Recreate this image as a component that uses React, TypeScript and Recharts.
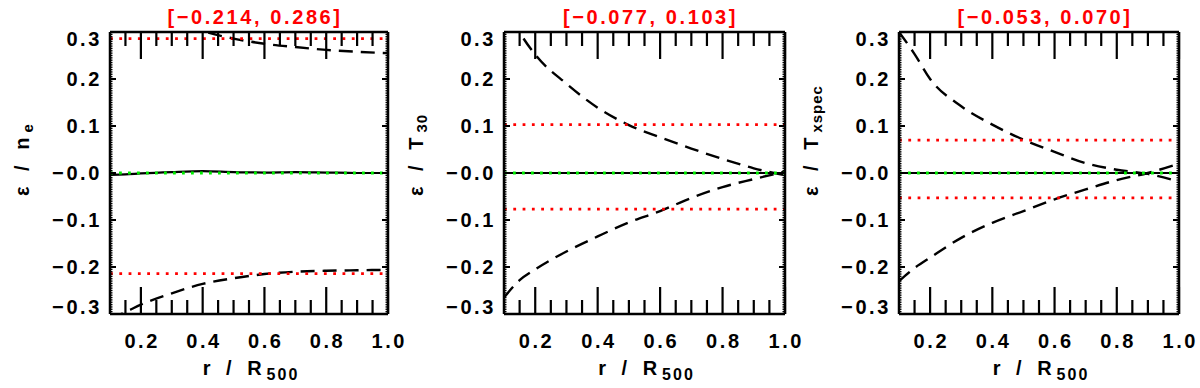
import React from 'react';
import { LineChart, Line, XAxis, YAxis, ReferenceLine, Label } from 'recharts';

// ---------------- data ----------------
const R = [0.1, 0.15, 0.2, 0.3, 0.4, 0.5, 0.6, 0.7, 0.8, 0.9, 1.0];

const NE_UPPER = [0.40, 0.375, 0.355, 0.325, 0.302, 0.286, 0.275, 0.268, 0.262, 0.258, 0.255];
const NE_LOWER = [-0.31, -0.296, -0.28, -0.256, -0.236, -0.224, -0.215, -0.21, -0.208, -0.207, -0.206];
const NE_BIAS = [-0.004, -0.003, -0.001, 0.002, 0.004, 0.002, 0.001, 0.002, 0.001, 0.0, 0.0];

const T30_UPPER = [0.37, 0.30, 0.252, 0.19, 0.139, 0.102, 0.076, 0.052, 0.03, 0.01, -0.005];
const T30_LOWER = [-0.265, -0.228, -0.205, -0.167, -0.135, -0.105, -0.081, -0.053, -0.03, -0.013, 0.003];
const T30_BIAS = [0, 0, 0, 0, 0, 0, 0, 0, 0, 0, 0];

const TX_UPPER = [0.30, 0.253, 0.20, 0.142, 0.103, 0.071, 0.045, 0.021, 0.007, -0.002, -0.018];
const TX_LOWER = [-0.23, -0.202, -0.18, -0.138, -0.106, -0.081, -0.056, -0.035, -0.015, 0.0, 0.02];
const TX_BIAS = [0, 0, 0, 0, 0, 0, 0, 0, 0, 0, 0];

const TITLES = ['[\u22120.214, 0.286]', '[\u22120.077, 0.103]', '[\u22120.053, 0.070]'];
const LOWER_BOUND = [-0.214, -0.077, -0.053];
const UPPER_BOUND = [0.286, 0.103, 0.07];
const Y_LABEL_MAIN = ['\u03b5 / n', '\u03b5 / T', '\u03b5 / T'];
const Y_LABEL_SUB = ['e', '30', 'xspec'];
const X_LABEL_MAIN = 'r / R';
const X_LABEL_SUB = '500';

const X_MAJOR = [0.2, 0.4, 0.6, 0.8, 1.0];
const X_MAJOR_LABELS = ['0.2', '0.4', '0.6', '0.8', '1.0'];
const X_MINOR = [0.15, 0.25, 0.3, 0.35, 0.45, 0.5, 0.55, 0.65, 0.7, 0.75, 0.85, 0.9, 0.95];
const Y_MAJOR = [-0.3, -0.2, -0.1, 0, 0.1, 0.2, 0.3];
const Y_MAJOR_LABELS = ['\u22120.3', '\u22120.2', '\u22120.1', '\u22120.0', '0.1', '0.2', '0.3'];

const UPPERS = [NE_UPPER, T30_UPPER, TX_UPPER];
const LOWERS = [NE_LOWER, T30_LOWER, TX_LOWER];
const BIASES = [NE_BIAS, T30_BIAS, TX_BIAS];

// ---------------- layout / style ----------------
const PANELS = [
  { left: 0, ml: 110, mr: 12 },
  { left: 400, ml: 104, mr: 15 },
  { left: 800, ml: 99, mr: 21 },
];
const AX = 1; // thickness reserved for each axis
const FONT = "'Liberation Sans', Arial, sans-serif";
const FS = 20;
const LS = 2.6;

const X_TICKS = [...X_MAJOR, ...X_MINOR].sort((a, b) => a - b);
const Y_TICKS: number[] = [];
for (let i = -60; i <= 60; i++) Y_TICKS.push(Math.round(i * 5) / 1000);

const isMajor = (arr: number[], v: number) => arr.findIndex((m) => Math.abs(m - v) < 1e-6);

const BottomTick = (props: any) => {
  const { x, y, payload } = props;
  const mi = isMajor(X_MAJOR, payload.value);
  const len = mi >= 0 ? 27 : 14;
  return (
    <g>
      <line x1={x} x2={x} y1={y} y2={y - len} stroke="#000" strokeWidth={2.2} />
      {mi >= 0 && (
        <text x={x + LS / 2} y={y + 34} textAnchor="middle" fontFamily={FONT} fontSize={FS}
          fontWeight="bold" letterSpacing={LS} fill="#000">
          {X_MAJOR_LABELS[mi]}
        </text>
      )}
    </g>
  );
};

const TopTick = (props: any) => {
  const { x, y, payload } = props;
  const mi = isMajor(X_MAJOR, payload.value);
  const len = mi >= 0 ? 27 : 14;
  return <line x1={x} x2={x} y1={y} y2={y + len} stroke="#000" strokeWidth={2.2} />;
};

const LeftTick = (props: any) => {
  const { x, y, payload } = props;
  const mi = isMajor(Y_MAJOR, payload.value);
  const len = mi >= 0 ? 6 : 2.5;
  let dy = 7;
  if (mi === Y_MAJOR.length - 1) dy = 14;
  if (mi === 0) dy = 0;
  return (
    <g>
      <line x1={x} x2={x + len} y1={y} y2={y} stroke="#000" strokeWidth={mi >= 0 ? 2 : 1.3} />
      {mi >= 0 && (
        <text x={x - 8} y={y + dy} textAnchor="end" fontFamily={FONT} fontSize={FS}
          fontWeight="bold" letterSpacing={LS} fill="#000">
          {Y_MAJOR_LABELS[mi]}
        </text>
      )}
    </g>
  );
};

const RightTick = (props: any) => {
  const { x, y, payload } = props;
  const mi = isMajor(Y_MAJOR, payload.value);
  const len = mi >= 0 ? 6 : 2.5;
  return <line x1={x} x2={x - len} y1={y} y2={y} stroke="#000" strokeWidth={mi >= 0 ? 2 : 1.3} />;
};

function Panel({ idx }: { idx: number }) {
  const p = PANELS[idx];
  const data = R.map((r, i) => ({
    r,
    up: UPPERS[idx][i],
    lo: LOWERS[idx][i],
    bias: BIASES[idx][i],
  }));
  return (
    <div style={{ position: 'absolute', left: p.left, top: 0, width: 400, height: 388 }}>
      <LineChart width={400} height={388} data={data}
        margin={{ top: 32 - AX, bottom: 74 - AX, left: p.ml - AX, right: p.mr - AX }}>
        <XAxis dataKey="r" type="number" domain={[0.1, 1.0]} allowDataOverflow ticks={X_TICKS}
          interval={0} height={AX} tickSize={0} tickMargin={0} tickLine={false}
          axisLine={{ stroke: '#000', strokeWidth: 2.5 }} tick={<BottomTick />}>
          <Label content={(lp: any) => {
            const vb = lp.viewBox;
            const cx = vb.x + vb.width / 2 + 2;
            return (
              <text x={cx} y={vb.y + 61} textAnchor="middle" fontFamily={FONT} fontSize={FS}
                fontWeight="bold" letterSpacing={5} fill="#000" style={{ whiteSpace: 'pre' }}>
                {X_LABEL_MAIN}
                <tspan fontSize={16} dy={5} letterSpacing={2}>{X_LABEL_SUB}</tspan>
              </text>
            );
          }} />
        </XAxis>
        <XAxis xAxisId="top" orientation="top" dataKey="r" type="number" domain={[0.1, 1.0]}
          allowDataOverflow ticks={X_TICKS} interval={0} height={AX} tickSize={0} tickMargin={0}
          tickLine={false} axisLine={{ stroke: '#000', strokeWidth: 2.5 }} tick={<TopTick />}>
          <Label content={(lp: any) => {
            const vb = lp.viewBox;
            const cx = vb.x + vb.width / 2 + 6;
            return (
              <text x={cx} y={32 - 8} textAnchor="middle" fontFamily={FONT} fontSize={FS}
                fontWeight="bold" letterSpacing={LS} fill="#ff0000">
                {TITLES[idx]}
              </text>
            );
          }} />
        </XAxis>
        <YAxis type="number" domain={[-0.3, 0.3]} allowDataOverflow ticks={Y_TICKS} interval={0}
          width={AX} tickSize={0} tickMargin={0} tickLine={false}
          axisLine={{ stroke: '#000', strokeWidth: 2.5 }} tick={<LeftTick />}>
          <Label content={() => {
            const bx = p.ml - 81;
            const by = 196;
            return (
              <text x={bx} y={by} transform={`rotate(-90, ${bx}, ${by})`} textAnchor="start"
                fontFamily={FONT} fontSize={FS} fontWeight="bold" letterSpacing={5}
                fill="#000" style={{ whiteSpace: 'pre' }}>
                {Y_LABEL_MAIN[idx]}
                <tspan fontSize={15} dy={4} letterSpacing={1}>{Y_LABEL_SUB[idx]}</tspan>
              </text>
            );
          }} />
        </YAxis>
        <YAxis yAxisId="right" orientation="right" type="number" domain={[-0.3, 0.3]}
          allowDataOverflow ticks={Y_TICKS} interval={0} width={AX} tickSize={0} tickMargin={0}
          tickLine={false} axisLine={{ stroke: '#000', strokeWidth: 2.5 }} tick={<RightTick />} />
        <Line dataKey="up" type="monotone" stroke="#000" strokeWidth={2.4}
          strokeDasharray="14 8" dot={false} isAnimationActive={false} />
        <Line dataKey="lo" type="monotone" stroke="#000" strokeWidth={2.4}
          strokeDasharray="14 8" dot={false} isAnimationActive={false} />
        <Line dataKey="bias" type="monotone" stroke="#000" strokeWidth={2.2}
          dot={false} isAnimationActive={false} />
        <ReferenceLine y={0} stroke="#00ee00" strokeWidth={2.8} strokeDasharray="2.8 6.2" />
        <ReferenceLine y={UPPER_BOUND[idx]} stroke="#ff0000" strokeWidth={2.8} strokeDasharray="2.8 6.5" />
        <ReferenceLine y={LOWER_BOUND[idx]} stroke="#ff0000" strokeWidth={2.8} strokeDasharray="2.8 6.5" />
      </LineChart>
    </div>
  );
}

export default function App() {
  return (
    <div style={{ position: 'absolute', left: 0, top: 0, width: 1200, height: 388, background: '#fff' }}>
      <style>{'.recharts-surface{overflow:visible}'}</style>
      <Panel idx={0} />
      <Panel idx={1} />
      <Panel idx={2} />
    </div>
  );
}
